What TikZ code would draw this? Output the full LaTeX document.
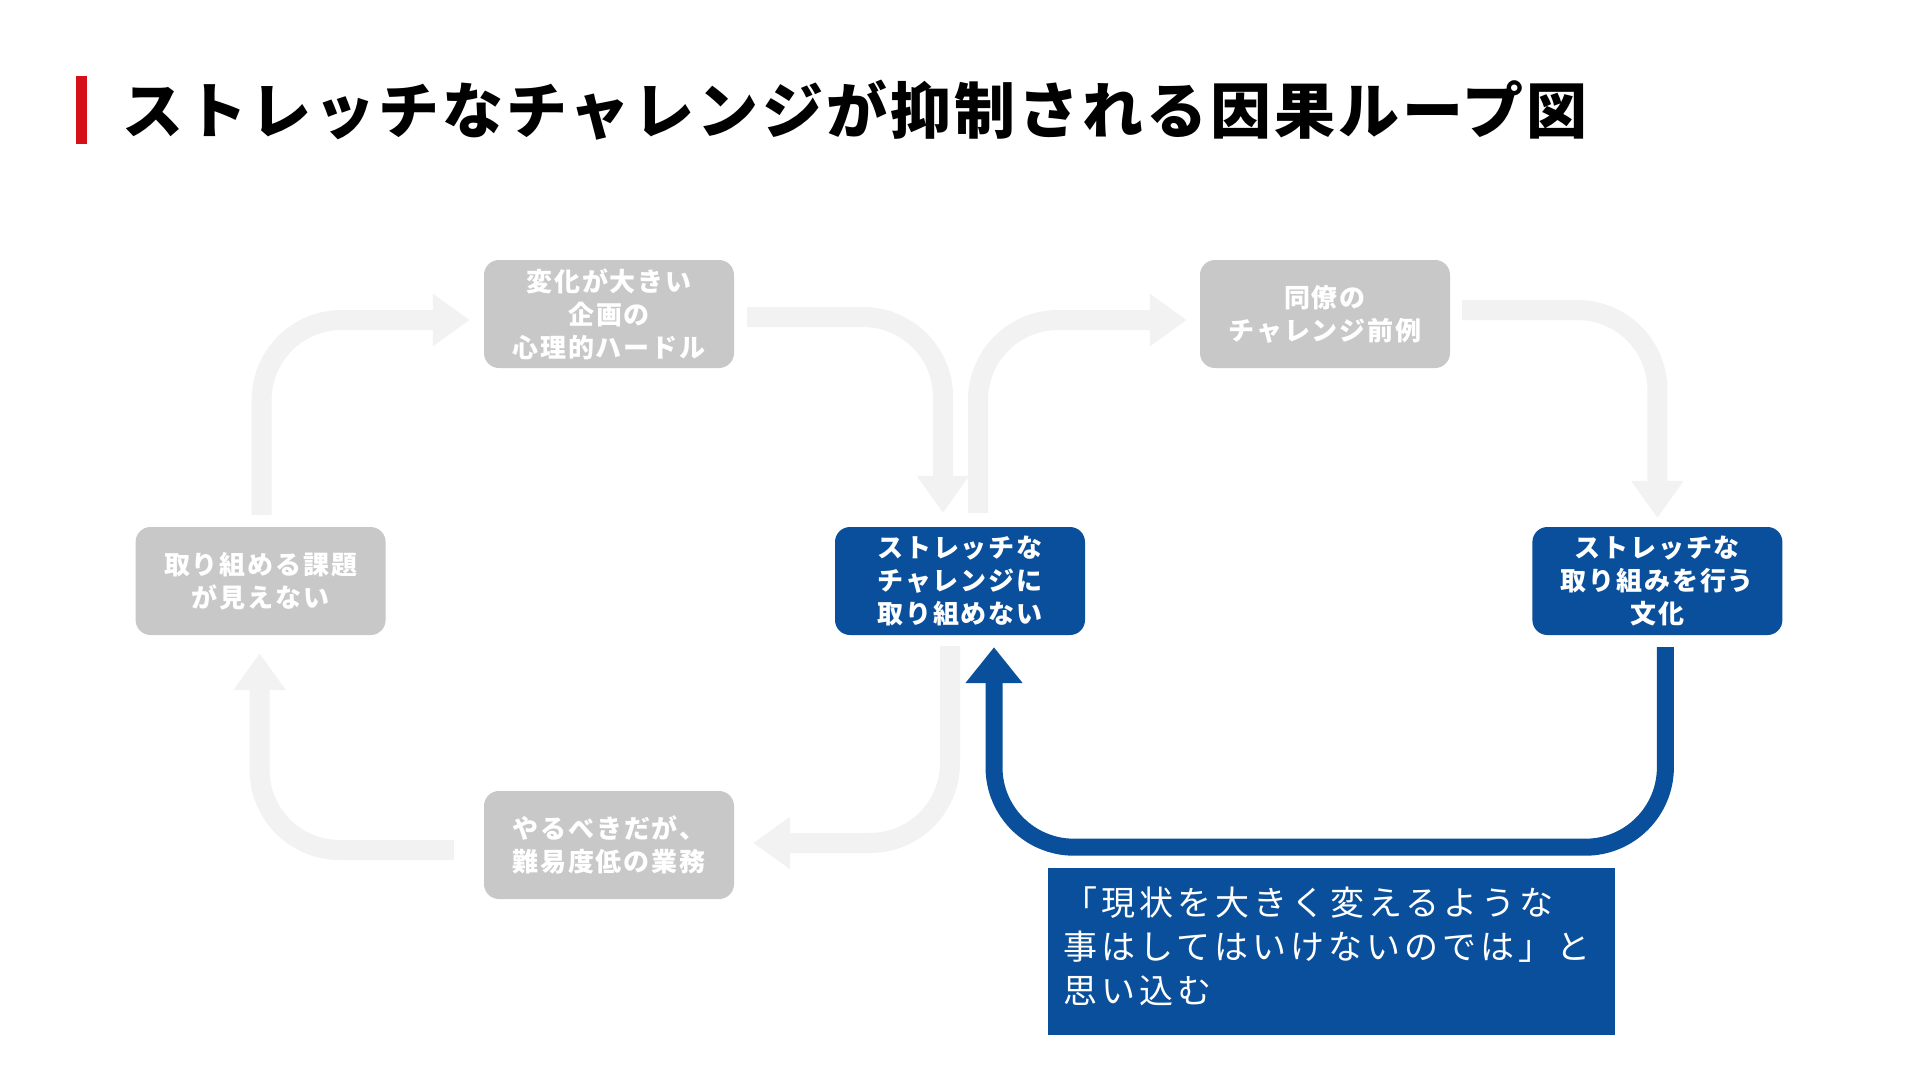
\documentclass[tikz,border=0pt]{standalone}
\usepackage{fontspec}
\setmainfont{Noto Sans CJK JP}
\usetikzlibrary
  {
    positioning,
    calc,
    arrows.meta,
  }
\definecolor{titlered}{RGB}{214,16,24}
\definecolor{factorgray}{RGB}{200,200,200}
\definecolor{flowgray}{RGB}{242,242,242}
\definecolor{keyblue}{RGB}{10,79,155}
\newcommand\titlefont{\fontsize{61}{70}\bfseries\addfontfeatures{LetterSpace=5}}
\newcommand\boxfont{\fontsize{26}{33}\bfseries\addfontfeatures{LetterSpace=7}}
\newcommand\notefont{\fontsize{34}{44}\selectfont\addfontfeatures{LetterSpace=12}}
\tikzset
  {
    box/.style=
      {
        rectangle,
        rounded corners=15pt,
        minimum width=250pt,
        minimum height=108pt,
        inner sep=4pt,
        align=center,
        text=white,
        font=\boxfont,
      },
    factor/.style={box, fill=factorgray},
    focus/.style={box, fill=keyblue},
    note/.style=
      {
        rectangle,
        fill=keyblue,
        text=white,
        minimum height=167pt,
        text width=535pt,
        inner xsep=16pt,
        align=left,
        font=\notefont,
      },
    cause arrow/.style=
      {
        draw=flowgray,
        line width=20pt,
        rounded corners=80pt,
        -{Triangle[length=37pt, width=50pt]},
      },
    loop arrow/.style=
      {
        draw=keyblue,
        line width=17pt,
        rounded corners=80pt,
        -{Triangle[length=36pt, width=55pt]},
      },
  }
\begin{document}
\begin{tikzpicture}[x=1pt, y=-1pt]
  \useasboundingbox[fill=white] (0,0) rectangle (1920,1080);

  \node[anchor=west, inner sep=0pt, font=\titlefont] (title) at (122,110)
    {ストレッチなチャレンジが抑制される因果ループ図};
  \node[fill=titlered, inner sep=0pt, minimum width=11pt, minimum height=68pt,
    left=35pt of title] (bar) {};

  \node[focus] (stuck) at (960,581) {ストレッチな\\チャレンジに\\取り組めない};
  \node[focus, right=447pt of stuck] (culture) {ストレッチな\\取り組みを行う\\文化};
  \node[factor, left=449pt of stuck] (unseen) {取り組める課題\\が見えない};
  \node[factor] (hurdle) at (609,314) {変化が大きい\\企画の\\心理的ハードル};
  \node[factor] (precedent) at (1325,314) {同僚の\\チャレンジ前例};
  \node[factor] (easy work) at (609,845) {やるべきだが、\\難易度低の業務};

  \node[note] (belief) at (1331,951)
    {「現状を大きく変えるような\\事はしてはいけないのでは」と\\思い込む\rule[-12pt]{0pt}{12pt}};

  \draw[cause arrow] ($(unseen.north)+(1,-12)$) |- ($(hurdle.west)+(-14,6)$);
  \draw[cause arrow] ($(hurdle.east)+(13,3)$) -| ($(stuck.north)+(-17,-14)$);
  \draw[cause arrow] ($(stuck.north)+(18,-14)$) |- ($(precedent.west)+(-13,6)$);
  \draw[cause arrow] ($(precedent.east)+(12,-4)$) -| ($(culture.north)+(0,-9)$);
  \draw[cause arrow] ($(stuck.south)+(-10,11)$) |- ($(easy work.east)+(19,-2)$);
  \draw[cause arrow] ($(easy work.west)+(-30,5)$) -| ($(unseen.south)+(-1,18)$);

  \draw[loop arrow] ($(culture.south)+(8,12)$) -- ++(0,200)
    -| ($(stuck.south)+(34,12)$);
\end{tikzpicture}
\end{document}
